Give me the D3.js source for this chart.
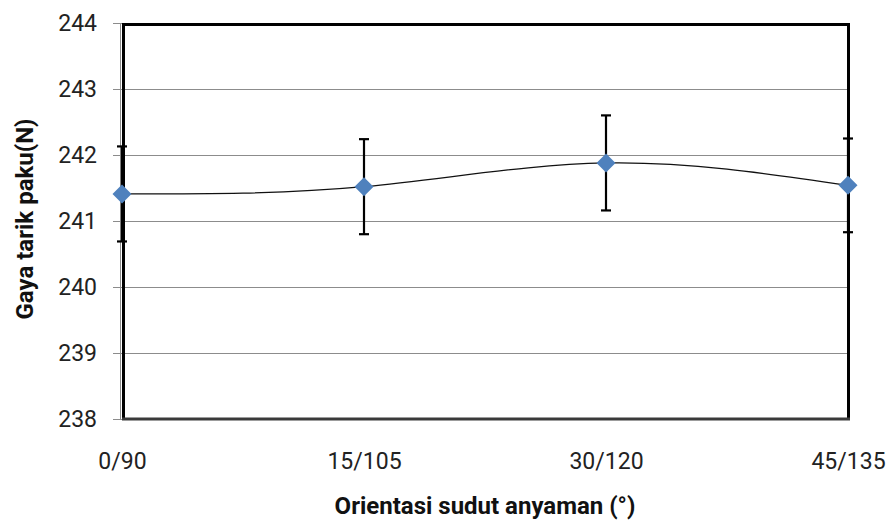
<!DOCTYPE html>
<html>
<head>
<meta charset="utf-8">
<script src="https://cdn.jsdelivr.net/npm/d3@7"></script>
<style>
  html, body { margin: 0; padding: 0; background: #fff; }
  svg { display: block; }
</style>
</head>
<body>
<script>
const categories = ["0/90", "15/105", "30/120", "45/135"];
const means = [241.41, 241.52, 241.88, 241.54];
const errors = [0.72, 0.72, 0.72, 0.71];
const yTicks = [238, 239, 240, 241, 242, 243, 244];
const xTitle = "Orientasi sudut anyaman (°)";
const yTitle = "Gaya tarik paku(N)";

const W = 888, H = 522;
const pLeft = 122, pRight = 848, pTop = 23, pBottom = 419;
const font = "Roboto, 'Open Sans', sans-serif";

const svg = d3.select("body").append("svg").attr("width", W).attr("height", H);

const x = d3.scalePoint().domain(categories).range([pLeft, pRight]).padding(0);
const y = d3.scaleLinear().domain([238, 244]).range([pBottom, pTop]);

// gridlines
svg.append("g").selectAll("line").data(yTicks.filter(d => d > 238 && d < 244)).join("line")
  .attr("x1", pLeft).attr("x2", pRight)
  .attr("y1", d => Math.round(y(d)) + 0.5).attr("y2", d => Math.round(y(d)) + 0.5)
  .attr("stroke", "#8c8c8c").attr("stroke-width", 1);

// y axis
const yAxis = svg.append("g").attr("transform", `translate(${pLeft},0)`)
  .call(d3.axisLeft(y).tickValues(yTicks).tickFormat(d3.format("d")).tickSize(9).tickPadding(16));
yAxis.select(".domain").remove();
yAxis.selectAll(".tick line").attr("stroke", "#8c8c8c");
yAxis.selectAll("text").attr("font-family", font).attr("font-size", 23).attr("fill", "#222");
// grey axis line
svg.append("line").attr("x1", pLeft - 1.5).attr("x2", pLeft - 1.5).attr("y1", pTop).attr("y2", pBottom)
  .attr("stroke", "#8c8c8c").attr("stroke-width", 1);

// x axis labels
const xAxis = svg.append("g").attr("transform", `translate(0,${pBottom})`)
  .call(d3.axisBottom(x).tickSize(0).tickPadding(34));
xAxis.select(".domain").remove();
xAxis.selectAll("text").attr("font-family", font).attr("font-size", 23).attr("fill", "#222");

// plot frame
svg.append("line").attr("x1", pLeft).attr("x2", pRight + 1.5).attr("y1", pTop + 1.5).attr("y2", pTop + 1.5)
  .attr("stroke", "#000").attr("stroke-width", 3);
svg.append("line").attr("x1", pRight + 0.5).attr("x2", pRight + 0.5).attr("y1", pTop).attr("y2", pBottom + 1)
  .attr("stroke", "#000").attr("stroke-width", 3);
svg.append("line").attr("x1", pLeft + 1.5).attr("x2", pLeft + 1.5).attr("y1", pTop).attr("y2", pBottom)
  .attr("stroke", "#000").attr("stroke-width", 3);
svg.append("line").attr("x1", pLeft).attr("x2", pRight + 2).attr("y1", pBottom).attr("y2", pBottom)
  .attr("stroke", "#3a3a3a").attr("stroke-width", 3);

// smoothed line
const pts = categories.map((c, i) => ({ c, v: means[i], e: errors[i] }));
svg.append("path").datum(pts)
  .attr("d", d3.line().x(d => x(d.c)).y(d => y(d.v)).curve(d3.curveNatural))
  .attr("fill", "none").attr("stroke", "#111").attr("stroke-width", 1.3);

// error bars
const eb = svg.append("g").attr("stroke", "#000").attr("stroke-width", 2.2);
eb.selectAll(".v").data(pts).join("line")
  .attr("x1", d => x(d.c)).attr("x2", d => x(d.c))
  .attr("y1", d => y(d.v + d.e)).attr("y2", d => y(d.v - d.e));
eb.selectAll(".t").data(pts).join("line")
  .attr("x1", d => x(d.c) - 5).attr("x2", d => x(d.c) + 5)
  .attr("y1", d => y(d.v + d.e)).attr("y2", d => y(d.v + d.e));
eb.selectAll(".b").data(pts).join("line")
  .attr("x1", d => x(d.c) - 5).attr("x2", d => x(d.c) + 5)
  .attr("y1", d => y(d.v - d.e)).attr("y2", d => y(d.v - d.e));

// markers
svg.append("g").selectAll("path").data(pts).join("path")
  .attr("transform", d => `translate(${x(d.c)},${y(d.v)})`)
  .attr("d", "M0,-9.5L9.5,0L0,9.5L-9.5,0Z")
  .attr("fill", "#4f81bd");

// titles
svg.append("text").attr("x", (pLeft + pRight) / 2).attr("y", 514)
  .attr("text-anchor", "middle").attr("font-family", font).attr("font-weight", "bold")
  .attr("font-size", 24).attr("fill", "#111").text(xTitle);
svg.append("text").attr("transform", `translate(33,219) rotate(-90)`)
  .attr("text-anchor", "middle").attr("font-family", font).attr("font-weight", "bold")
  .attr("font-size", 24).attr("fill", "#111").text(yTitle);
</script>
</body>
</html>
